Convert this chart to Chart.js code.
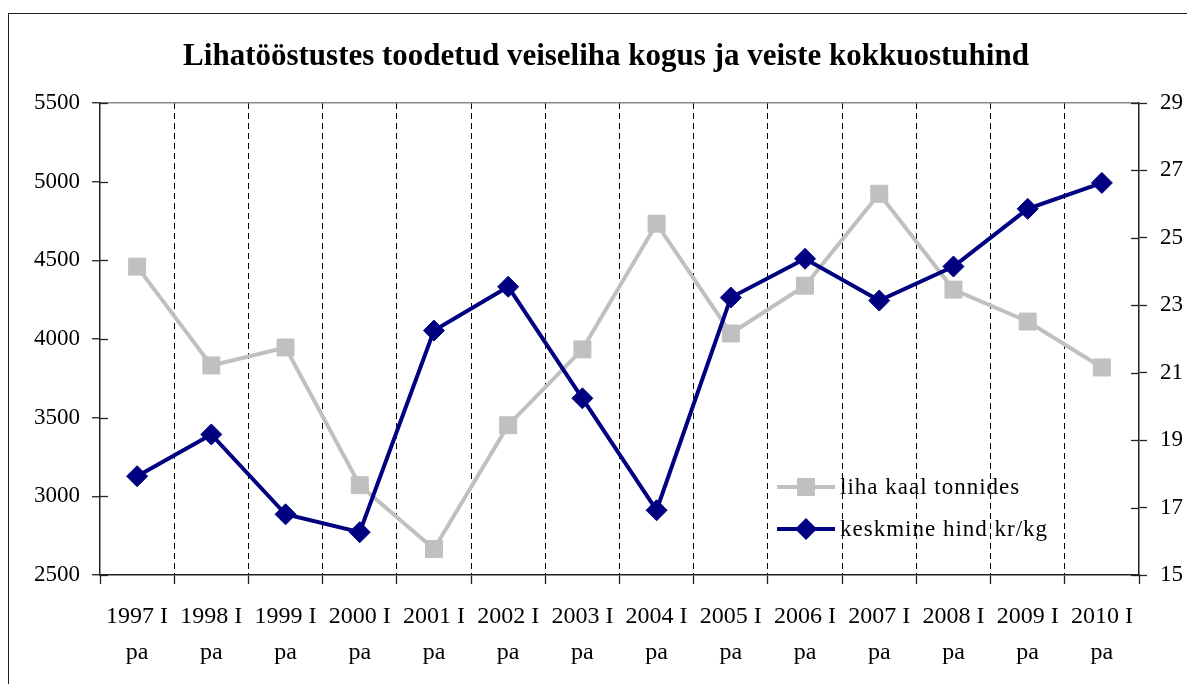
<!DOCTYPE html>
<html>
<head>
<meta charset="utf-8">
<script src="https://cdn.jsdelivr.net/npm/chart.js@4"></script>
<style>
  html, body { margin: 0; padding: 0; background: #fff; }
  canvas { display: block; }
</style>
</head>
<body>
<canvas id="c" width="1187" height="684"></canvas>
<script>
const titleText = 'Lihatööstustes toodetud veiseliha kogus ja veiste kokkuostuhind';
const categories = [
  ['1997 I', 'pa'], ['1998 I', 'pa'], ['1999 I', 'pa'], ['2000 I', 'pa'],
  ['2001 I', 'pa'], ['2002 I', 'pa'], ['2003 I', 'pa'], ['2004 I', 'pa'],
  ['2005 I', 'pa'], ['2006 I', 'pa'], ['2007 I', 'pa'], ['2008 I', 'pa'],
  ['2009 I', 'pa'], ['2010 I', 'pa']
];
const meatLabel = 'liha kaal tonnides';
const meatTonnes = [4460, 3832, 3946, 3071, 2665, 3452, 3934, 4733, 4035, 4339, 4923, 4314, 4111, 3819];
const priceLabel = 'keskmine hind kr/kg';
const priceKrKg = [17.93, 19.17, 16.8, 16.27, 22.25, 23.55, 20.24, 16.92, 23.23, 24.38, 23.14, 24.15, 25.86, 26.63];
const leftTicks = [2500, 3000, 3500, 4000, 4500, 5000, 5500];
const rightTicks = [15, 17, 19, 21, 23, 25, 27, 29];

const SERIF = '"Liberation Serif", "Times New Roman", serif';

const framePlugin = {
  id: 'frame',
  beforeDraw(chart) {
    const ctx = chart.ctx;
    ctx.save();
    ctx.strokeStyle = '#222';
    ctx.lineWidth = 1;
    ctx.strokeRect(8.5, 13.5, 1200, 700);
    ctx.restore();
  },
  afterDraw(chart) {
    const ctx = chart.ctx;
    const area = chart.chartArea;
    ctx.save();
    // title
    ctx.fillStyle = '#000';
    ctx.font = 'bold 31px ' + SERIF;
    ctx.textAlign = 'center';
    ctx.textBaseline = 'middle';
    ctx.fillText(titleText, 606, 57);
    // inner halves of y tick marks
    ctx.strokeStyle = '#222';
    ctx.lineWidth = 1.3;
    const yl = chart.scales.y;
    const yr = chart.scales.y1;
    yl.ticks.forEach(t => {
      const p = Math.round(yl.getPixelForValue(t.value)) + 0.5;
      ctx.beginPath(); ctx.moveTo(area.left, p); ctx.lineTo(area.left + 8, p); ctx.stroke();
    });
    yr.ticks.forEach(t => {
      const p = Math.round(yr.getPixelForValue(t.value)) + 0.5;
      ctx.beginPath(); ctx.moveTo(area.right, p); ctx.lineTo(area.right - 8, p); ctx.stroke();
    });
    // legend
    const ds = chart.data.datasets;
    const rows = [487, 529];
    ds.forEach((d, i) => {
      const y = rows[i];
      ctx.strokeStyle = d.borderColor;
      ctx.lineWidth = d.borderWidth;
      ctx.beginPath(); ctx.moveTo(777, y); ctx.lineTo(835, y); ctx.stroke();
      ctx.fillStyle = d.pointBackgroundColor;
      if (d.pointStyle === 'rect') {
        ctx.fillRect(806 - 9, y - 9, 18, 18);
      } else {
        ctx.beginPath();
        ctx.moveTo(806, y - 11); ctx.lineTo(817, y); ctx.lineTo(806, y + 11); ctx.lineTo(795, y);
        ctx.closePath(); ctx.fill();
      }
      ctx.fillStyle = '#000';
      ctx.font = '23px ' + SERIF;
      ctx.textAlign = 'left';
      ctx.textBaseline = 'middle';
      try { ctx.letterSpacing = '1px'; } catch (e) {}
      ctx.fillText(d.label, 840, y + 1);
      try { ctx.letterSpacing = '0px'; } catch (e) {}
    });
    ctx.restore();
  }
};

new Chart(document.getElementById('c'), {
  type: 'line',
  data: {
    labels: categories,
    datasets: [
      {
        label: meatLabel,
        data: meatTonnes,
        yAxisID: 'y',
        borderColor: '#C0C0C0',
        backgroundColor: '#C0C0C0',
        pointBackgroundColor: '#C0C0C0',
        pointBorderColor: '#C0C0C0',
        borderWidth: 4,
        pointStyle: 'rect',
        pointRadius: 12,
        pointBorderWidth: 1,
        tension: 0,
        order: 2
      },
      {
        label: priceLabel,
        data: priceKrKg,
        yAxisID: 'y1',
        borderColor: '#000080',
        backgroundColor: '#000080',
        pointBackgroundColor: '#000080',
        pointBorderColor: '#000080',
        borderWidth: 4,
        pointStyle: 'rectRot',
        pointRadius: 10.5,
        pointBorderWidth: 1,
        tension: 0,
        order: 1
      }
    ]
  },
  options: {
    responsive: false,
    animation: false,
    layout: { padding: { top: 103, left: 0, right: 0, bottom: 0 } },
    plugins: {
      legend: { display: false },
      title: { display: false },
      tooltip: { enabled: false }
    },
    scales: {
      x: {
        offset: true,
        grid: {
          offset: true,
          color: ctx => (ctx.type === 'tick' && ctx.index > 0) ? '#000' : 'rgba(0,0,0,0)',
          lineWidth: 1,
          tickColor: '#222',
          tickLength: 9,
          tickWidth: 1.3,
          tickBorderDash: []
        },
        border: { display: true, color: '#222', width: 1.5, dash: [6, 4] },
        ticks: {
          color: '#000',
          font: { family: SERIF, size: 24, lineHeight: 1.5 },
          maxRotation: 0,
          minRotation: 0,
          autoSkip: false,
          padding: 15
        },
        afterFit(s) { s.height = 109; }
      },
      y: {
        position: 'left',
        min: 2500,
        max: 5500,
        afterBuildTicks(s) { s.ticks = leftTicks.map(v => ({ value: v })); },
        grid: {
          color: ctx => (ctx.tick && ctx.tick.value === 5500) ? '#8a8a8a' : 'rgba(0,0,0,0)',
          lineWidth: 1.5,
          tickColor: '#222',
          tickLength: 8,
          tickWidth: 1.3
        },
        border: { display: true, color: '#222', width: 1.5 },
        ticks: {
          color: '#000',
          font: { family: SERIF, size: 23 },
          padding: 12,
          callback: v => String(v)
        },
        afterFit(s) { s.width = 100; }
      },
      y1: {
        position: 'right',
        min: 15,
        max: 29,
        afterBuildTicks(s) { s.ticks = rightTicks.map(v => ({ value: v })); },
        grid: {
          drawOnChartArea: false,
          tickColor: '#222',
          tickLength: 8,
          tickWidth: 1.3
        },
        border: { display: true, color: '#222', width: 1.5 },
        ticks: {
          color: '#000',
          font: { family: SERIF, size: 23 },
          padding: 13,
          callback: v => String(v)
        },
        afterFit(s) { s.width = 48; }
      }
    }
  },
  plugins: [framePlugin]
});
</script>
</body>
</html>
